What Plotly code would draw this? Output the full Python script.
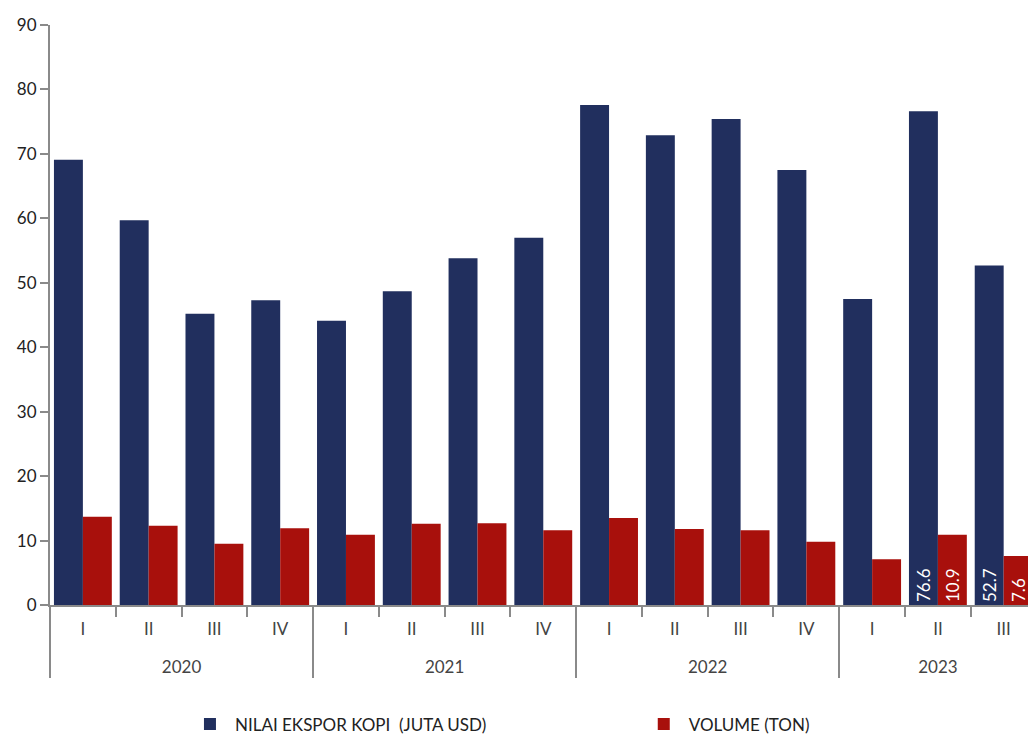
import plotly.graph_objects as go

years = ["2020"] * 4 + ["2021"] * 4 + ["2022"] * 4 + ["2023"] * 3
quarters = ["I", "II", "III", "IV"] * 3 + ["I", "II", "III"]
nilai = [69.1, 59.7, 45.2, 47.3, 44.1, 48.7, 53.8, 57.0, 77.6, 72.9, 75.4, 67.5, 47.5, 76.6, 52.7]
volume = [13.7, 12.3, 9.5, 11.9, 10.9, 12.6, 12.7, 11.6, 13.5, 11.8, 11.6, 9.8, 7.1, 10.9, 7.6]
nilai_labels = [""] * 13 + ["76.6", "52.7"]
volume_labels = [""] * 13 + ["10.9", "7.6"]

FONT = "Lato, sans-serif"
BLUE = "#212F5E"
RED = "#A8100C"

# year labels pushed one line lower so they sit beneath the quarter labels
year_keys = ["<br>" + y for y in years]

fig = go.Figure()
fig.add_trace(go.Bar(
    x=[year_keys, quarters], y=nilai, name="NILAI EKSPOR KOPI  (JUTA USD)",
    marker=dict(color=BLUE, line=dict(width=0)),
    text=nilai_labels, textposition="inside", insidetextanchor="start",
    textangle=-90, textfont=dict(color="white", size=17, family=FONT),
    legend="legend",
))
fig.add_trace(go.Bar(
    x=[year_keys, quarters], y=volume, name="VOLUME (TON)",
    marker=dict(color=RED, line=dict(width=0)),
    text=volume_labels, textposition="inside", insidetextanchor="start",
    textangle=-90, textfont=dict(color="white", size=17, family=FONT),
    legend="legend2",
))

legend_common = dict(orientation="h", yanchor="top", xanchor="left",
                     font=dict(size=17, color="#222", family=FONT),
                     bgcolor="rgba(0,0,0,0)", itemwidth=40)

fig.update_layout(
    width=1028, height=738,
    margin=dict(l=50, r=0, t=25, b=133, autoexpand=False),
    paper_bgcolor="white", plot_bgcolor="white",
    barmode="group", bargap=0.12, bargroupgap=0,
    font=dict(family=FONT, size=17, color="#222"),
    showlegend=True,
    legend=dict(x=0.138, y=-0.175, **legend_common),
    legend2=dict(x=0.602, y=-0.175, **legend_common),
    xaxis=dict(
        type="multicategory", range=[-0.5, 14.37],
        showline=True, linecolor="#8a8a8a", linewidth=2,
        ticks="outside", ticklen=10, tickcolor="#8a8a8a", tickwidth=2,
        showdividers=True, dividercolor="#8a8a8a", dividerwidth=2,
        tickfont=dict(size=17, color="#444"), ticklabelstandoff=8,
        showgrid=False, automargin=False,
    ),
    yaxis=dict(
        range=[0, 90], dtick=10, showgrid=False, zeroline=False,
        showline=True, linecolor="#8a8a8a", linewidth=2,
        ticks="outside", ticklen=8, tickcolor="#8a8a8a", tickwidth=2,
        tickfont=dict(size=17, color="#222"), automargin=False,
    ),
)

fig.write_html("out.html")
